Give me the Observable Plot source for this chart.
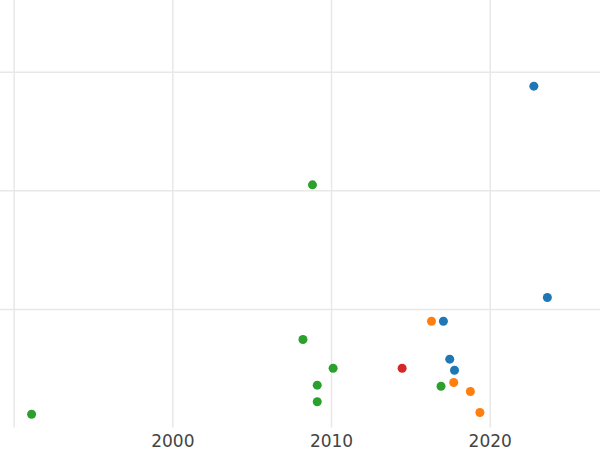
<!DOCTYPE html>
<html>
<head>
<meta charset="utf-8">
<script src="https://cdn.jsdelivr.net/npm/d3@7"></script>
<script src="https://cdn.jsdelivr.net/npm/@observablehq/plot@0.6"></script>
<style>
  html, body { margin: 0; padding: 0; background: #fff; }
  #chart svg { display: block; }
</style>
</head>
<body>
<div id="chart"></div>
<script>
// Data
const groups = ["A", "B", "C", "D"];
const groupColors = ["#1f77b4", "#ff7f0e", "#2ca02c", "#d62728"];

const years = [1991.1, 2008.8, 2008.2, 2010.1, 2009.1, 2009.1, 2016.9,
               2014.45,
               2016.3, 2017.7, 2018.75, 2019.35,
               2017.05, 2017.45, 2017.75, 2022.75, 2023.6];
const values = [0.117, 2.051, 0.747, 0.505, 0.362, 0.222, 0.353,
                0.505,
                0.901, 0.384, 0.309, 0.132,
                0.901, 0.581, 0.488, 2.883, 1.101];
const series = ["C", "C", "C", "C", "C", "C", "C",
                "D",
                "B", "B", "B", "B",
                "A", "A", "A", "A", "A"];

const xTickLabels = [2000, 2010, 2020];
const xGridTicks = [1990, 2000, 2010, 2020];
const yGridTicks = [1, 2, 3];

const data = years.map((y, i) => ({year: y, value: values[i], group: series[i]}));

const chart = Plot.plot({
  width: 600,
  height: 450,
  marginLeft: 0,
  marginRight: 0,
  marginTop: 0,
  marginBottom: 22.4,
  style: {fontFamily: "DejaVu Sans", fontSize: "17px", color: "#444", background: "#fff"},
  x: {domain: [1989.14, 2026.95]},
  y: {domain: [0, 3.605], axis: null},
  color: {domain: groups, range: groupColors},
  marks: [
    Plot.gridX(xGridTicks, {stroke: "#e8e8e8", strokeOpacity: 1, strokeWidth: 1.5}),
    Plot.gridY(yGridTicks, {stroke: "#e8e8e8", strokeOpacity: 1, strokeWidth: 1.5}),
    Plot.axisX(xTickLabels, {tickSize: 0, tickPadding: 7, tickFormat: d => String(d), fill: "#444", fontSize: 17, label: null}),
    Plot.dot(data, {x: "year", y: "value", fill: "group", r: 4.5})
  ]
});
document.getElementById("chart").appendChild(chart);
</script>
</body>
</html>
